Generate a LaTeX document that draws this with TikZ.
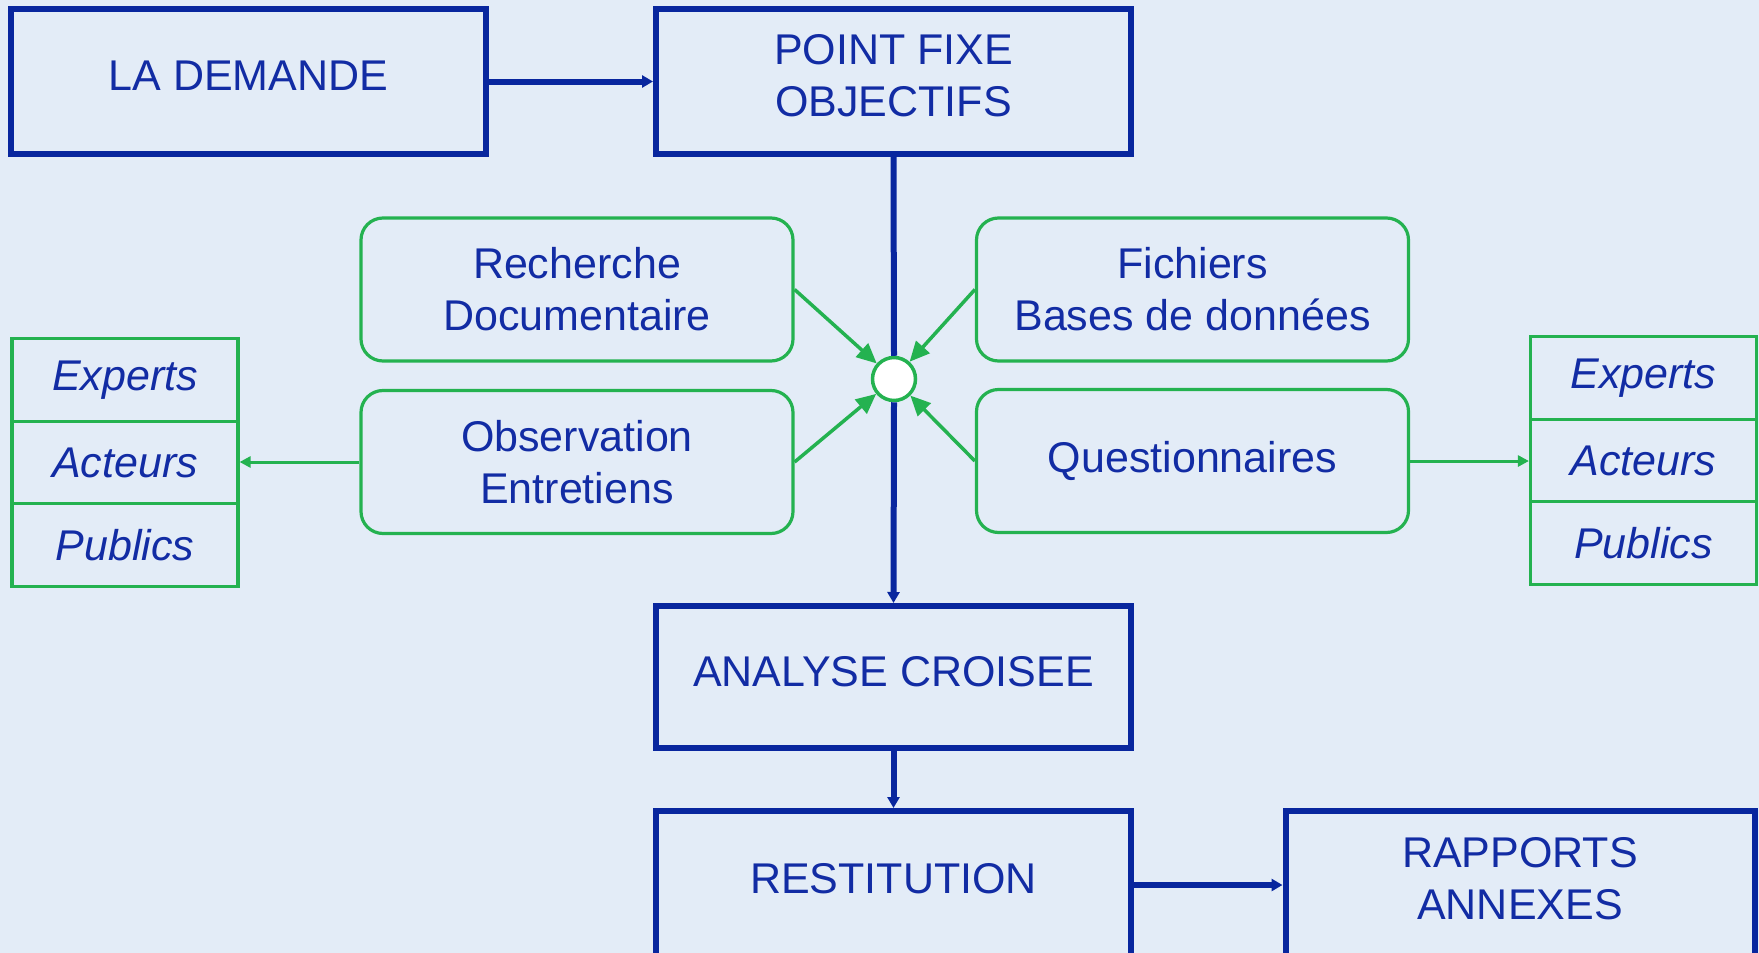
\documentclass[tikz,border=0pt]{standalone}
\usepackage{fontspec}
\setmainfont{Liberation Sans}
\usetikzlibrary{arrows.meta}
\definecolor{bgc}{RGB}{227,236,247}
\definecolor{dblue}{RGB}{8,38,158}
\definecolor{tblue}{RGB}{18,44,164}
\definecolor{dgreen}{RGB}{36,178,80}
\begin{document}
\begin{tikzpicture}[x=1pt,y=-1pt,
  txt/.style={font=\fontsize{43}{52}\selectfont, text=tblue, align=center, inner sep=0pt},
  bluebox/.style={txt, draw=dblue, line width=6pt, minimum width=475pt, minimum height=145pt, text depth=12pt},
  greenbox/.style={txt, draw=dgreen, line width=3.2pt, rounded corners=22pt, minimum width=432pt, minimum height=143pt},
  cell/.style={txt, draw=dgreen, line width=3.2pt, minimum width=226pt, minimum height=82.5pt, font=\fontsize{43}{52}\selectfont\itshape},
  bluearrow/.style={draw=dblue, line width=6pt, -{Triangle[length=11pt,width=12pt]}},
  blueline/.style={draw=dblue, line width=6pt},
  garrow/.style={draw=dgreen, line width=3.5pt, -{Triangle[length=20pt,width=18pt]}},
  gsmall/.style={draw=dgreen, line width=3pt, -{Triangle[length=11pt,width=11pt]}}]
\fill[bgc] (0,0) rectangle (1759,953);
\useasboundingbox (0,0) rectangle (1759,953);
\clip (0,0) rectangle (1759,953);

\node[bluebox] (dem) at (248.5,81.5) {LA DEMANDE};
\node[bluebox] (pf) at (893.5,81.5) {POINT FIXE\\OBJECTIFS};
\node[bluebox, minimum height=142pt] (ana) at (893.5,677) {ANALYSE CROISEE};
\node[bluebox, minimum height=148pt, text depth=14pt] (rest) at (893.5,885) {RESTITUTION};
\node[bluebox, minimum width=469pt, minimum height=148pt, text depth=14pt] (rap) at (1520,885) {RAPPORTS\\ANNEXES};

\node[greenbox] (rech) at (577,289.5) {Recherche\\Documentaire};
\node[greenbox] (fich) at (1192.5,289.5) {Fichiers\\Bases de données};
\node[greenbox] (obs) at (577,462) {Observation\\Entretiens};
\node[greenbox] (ques) at (1192.5,461) {Questionnaires};

\node[cell] (le) at (125,380) {Experts};
\node[cell] (la) at (125,462.5) {Acteurs};
\node[cell] (lp) at (125,545) {Publics};
\node[cell] (re) at (1643.5,378) {Experts};
\node[cell] (ra) at (1643.5,460.5) {Acteurs};
\node[cell] (rp) at (1643.5,543) {Publics};

\node[circle, draw=dgreen, fill=white, line width=3.5pt, minimum size=43pt, inner sep=0pt] (hub) at (894,379) {};

\draw[bluearrow] (dem.east) -- (pf.west);
\draw[blueline] (pf.south) -- (hub.north);
\draw[bluearrow] (hub.south) -- (ana.north);
\draw[bluearrow] (ana.south) -- (rest.north);
\draw[bluearrow] (rest.east) -- (rap.west);

\draw[garrow] (rech.east) -- (hub);
\draw[garrow] (fich.west) -- (hub);
\draw[garrow] (obs.east) -- (hub);
\draw[garrow] (ques.west) -- (hub);

\draw[gsmall] (obs.west) -- (obs.west -| la.east);
\draw[gsmall] (ques.east) -- (ques.east -| ra.west);
\end{tikzpicture}
\end{document}
